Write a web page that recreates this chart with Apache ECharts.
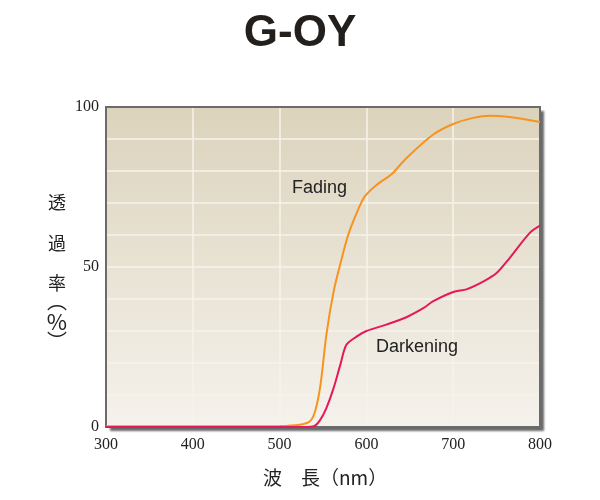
<!DOCTYPE html>
<html><head><meta charset="utf-8">
<script src="https://cdn.jsdelivr.net/npm/echarts@6/dist/echarts.min.js"></script>
<style>html,body{margin:0;padding:0;background:#fff}#c{width:600px;height:500px}</style>
</head><body><div id="c"></div>
<script>
const titleText = 'G-OY';
const xTitle = '波　長（nm）';
const yTitleChars = ['透', '過', '率', '︵', '%', '︶'];
const fadingWl = [300, 400, 500, 523, 535, 541, 547, 554, 562, 570, 579, 589, 598, 612, 629, 646, 677, 700, 723, 742, 765, 800];
const fadingT  = [0.2, 0.2, 0.3, 0.7, 1.8, 5, 13, 29, 42, 51, 60, 67, 72, 75.7, 79, 84, 91.4, 94.7, 96.6, 97.3, 96.9, 95.3];
const darkWl = [300, 400, 500, 530, 540, 547, 554, 562, 570, 577, 589, 600, 623, 646, 666, 677, 700, 716, 735, 750, 765, 788, 800];
const darkT  = [0, 0, 0, 0, 0.3, 2.3, 6, 12, 19.5, 25.7, 28.3, 30, 32, 34.3, 37.2, 39.3, 42.2, 43.1, 45.5, 48.1, 52.8, 60.6, 62.9];
const yLabels = [0, 50, 100];
const seriesNames = ['Fading', 'Darkening'];

const chart = echarts.init(document.getElementById('c'));
const zip = (a, b) => a.map((v, i) => [v, b[i]]);
const yTitlePos = [202, 243, 283, 301, 322, 341];
const yTitleSize = [18, 18, 18, 20, 22, 20];
const yTitleGraphics = yTitleChars.map((ch, i) => ({
  type: 'text', x: 57, y: yTitlePos[i], z: 10,
  style: {text: ch, fontFamily: 'Noto Sans CJK JP', fontSize: yTitleSize[i],
    fill: '#222', align: 'center', verticalAlign: 'middle'}
}));
chart.setOption({
  animation: false,
  title: {text: titleText, left: 'center', top: 7,
    textStyle: {fontFamily: 'Liberation Sans', fontWeight: 'bold', fontSize: 44, color: '#231f1c'}},
  grid: {left: 106, right: 60, top: 107, bottom: 73, show: true,
    borderWidth: 0,
    backgroundColor: new echarts.graphic.LinearGradient(0, 0, 0, 1, [
      {offset: 0, color: '#dcd3bc'}, {offset: 1, color: '#f5f2ec'}]),
    shadowColor: 'rgba(90,90,90,0.9)', shadowBlur: 2, shadowOffsetX: 4, shadowOffsetY: 4},
  xAxis: {type: 'value', min: 300, max: 800, interval: 100,
    axisLine: {show: false}, axisTick: {show: false},
    axisLabel: {fontFamily: 'Liberation Serif', fontSize: 16, color: '#222', margin: 10},
    splitLine: {show: true, lineStyle: {color: '#f7f3ea', width: 1.5}}},
  yAxis: {type: 'value', min: 0, max: 100, interval: 10,
    axisLine: {show: false}, axisTick: {show: false},
    axisLabel: {fontFamily: 'Liberation Serif', fontSize: 16, color: '#222', margin: 7,
      formatter: v => yLabels.includes(v) ? String(v) : ''},
    splitLine: {show: true, lineStyle: {color: '#f7f3ea', width: 1.5}}},
  graphic: [
    {type: 'rect', z: 1, silent: true, shape: {x: 106, y: 107, width: 434, height: 320},
      style: {fill: 'none', stroke: '#6b6b6b', lineWidth: 2}},
    {type: 'text', x: 263, y: 478, style: {text: xTitle, fontFamily: 'Noto Sans CJK JP', fontSize: 19, fill: '#222', verticalAlign: 'middle'}},
    ...yTitleGraphics,
    {type: 'text', x: 292, y: 188, z: 10, style: {text: seriesNames[0], fontFamily: 'Liberation Sans', fontSize: 18, fill: '#222', verticalAlign: 'middle'}},
    {type: 'text', x: 376, y: 347, z: 10, style: {text: seriesNames[1], fontFamily: 'Liberation Sans', fontSize: 18, fill: '#222', verticalAlign: 'middle'}}
  ],
  series: [
    {name: seriesNames[0], type: 'line', z: 3, data: zip(fadingWl, fadingT), smooth: 0.3, showSymbol: false,
      lineStyle: {color: '#f7931e', width: 2}},
    {name: seriesNames[1], type: 'line', z: 4, data: zip(darkWl, darkT), smooth: 0.3, showSymbol: false,
      lineStyle: {color: '#e5195a', width: 2}}
  ]
});
</script></body></html>
